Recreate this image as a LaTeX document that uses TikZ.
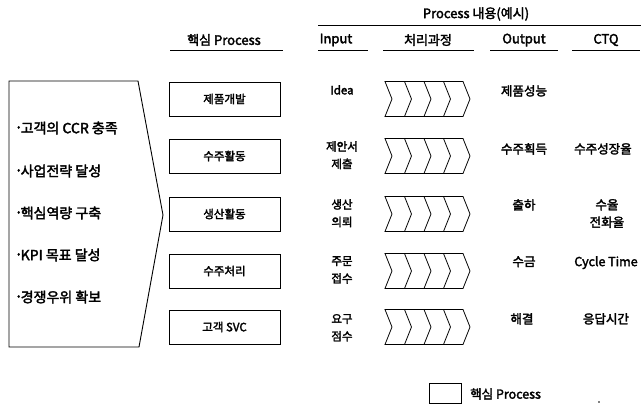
\documentclass[tikz,border=0pt]{standalone}
\usepackage{fontspec}
\setmainfont{Noto Sans CJK KR}[RawFeature={embolden=2.5}]
\newcommand{\bul}{\raisebox{3.2pt}{\fontsize{9}{9}\selectfont •}\hspace{0.5pt}}
\begin{document}
\begin{tikzpicture}[x=1pt,y=-1pt,
  every node/.style={font=\fontsize{11}{12}\selectfont, inner sep=0pt, text=black},
  hdr/.style={font=\fontsize{13}{14}\selectfont},
  proc/.style={draw, line width=0.9pt, minimum width=111pt, minimum height=34pt, font=\fontsize{11.5}{12}\selectfont},
  bullet/.style={anchor=west, font=\fontsize{14}{15}\selectfont},
  cell/.style={align=center, font=\fontsize{11.5}{17.5}\selectfont, anchor=north},
  ocell/.style={align=center, font=\fontsize{12.5}{17.5}\selectfont, anchor=north},
  hline/.style={line width=0.7pt},
  chevron/.pic={
    \draw[line width=0.8pt] (0,0) -- (78,0) -- (85,17.5) -- (78,35) -- (0,35) -- (7,17.5) -- cycle;
    \foreach \k in {1,2,3}{
      \draw[line width=0.8pt] (19.5*\k,0) -- (19.5*\k+7,17.5) -- (19.5*\k,35);
    }
  }]
\useasboundingbox (0,0) rectangle (641,405);

% headers
\node[hdr] (hcontent) at (476,14) {Process 내용(예시)};
\coordinate (tl1) at (318,25); \coordinate (tl2) at (641,25);
\draw[hline] (tl1) -- (tl2);
\node[hdr] (hcore) at (224,40) {핵심 Process};
\node[hdr] (hin) at (336,40) {Input};
\node[hdr] (hproc) at (428,40) {처리과정};
\node[hdr] (hout) at (524,40) {Output};
\node[hdr] (hctq) at (606,40) {CTQ};
\foreach \a/\b in {170/283, 318/368, 383/474, 490/558, 572/640}{
  \draw[hline] (\a,50) -- (\b,50);
}

% pentagon arrow
\draw[line width=0.9pt] (9,81) -- (138,81) -- (163,215) -- (139,347) -- (9,347) -- cycle;
\node[bullet] (b1) at (17,128) {\bul 고객의 CCR 충족};
\node[bullet] (b2) at (17,171) {\bul 사업전략 달성};
\node[bullet] (b3) at (17,213) {\bul 핵심역량 구축};
\node[bullet] (b4) at (17,255) {\bul KPI 목표 달성};
\node[bullet] (b5) at (17,297) {\bul 경쟁우위 확보};

% core process boxes
\node[proc] (p1) at (224.5,99) {제품개발};
\node[proc] (p2) at (224.5,156) {수주활동};
\node[proc] (p3) at (224.5,214) {생산활동};
\node[proc] (p4) at (224.5,271) {수주처리};
\node[proc] (p5) at (224.5,327) {고객 SVC};

% chevrons
\foreach \y in {99,156,214,271,327}{
  \pic at (385,\y-17.5) {chevron};
}

% input
\node[cell] (i1) at (342,85) {Idea};
\node[cell] (i2) at (342,141) {제안서\\제출};
\node[cell] (i3) at (342,199) {생산\\의뢰};
\node[cell] (i4) at (342,256) {주문\\접수};
\node[cell] (i5) at (342,314) {요구\\점수};

% output
\node[ocell] (o1) at (524,85) {제품성능};
\node[ocell] (o2) at (524,143) {수주획득};
\node[ocell] (o3) at (524,199) {출하};
\node[ocell] (o4) at (524,256) {수금};
\node[ocell] (o5) at (522,313) {해결};

% CTQ
\node[ocell] (c2) at (603,143) {수주성장율};
\node[ocell] (c3) at (607,199) {수율\\전화율};
\node[ocell] (c4) at (606,256) {Cycle Time};
\node[ocell] (c5) at (606,313) {응답시간};

% legend
\node[draw, line width=0.7pt, minimum width=32pt, minimum height=20pt] (leg) at (445,393) {};
\node[anchor=west, font=\fontsize{12.5}{13}\selectfont] (legt) at (470,394) {핵심 Process};
\fill (599,402) circle (0.9);
\end{tikzpicture}
\end{document}
